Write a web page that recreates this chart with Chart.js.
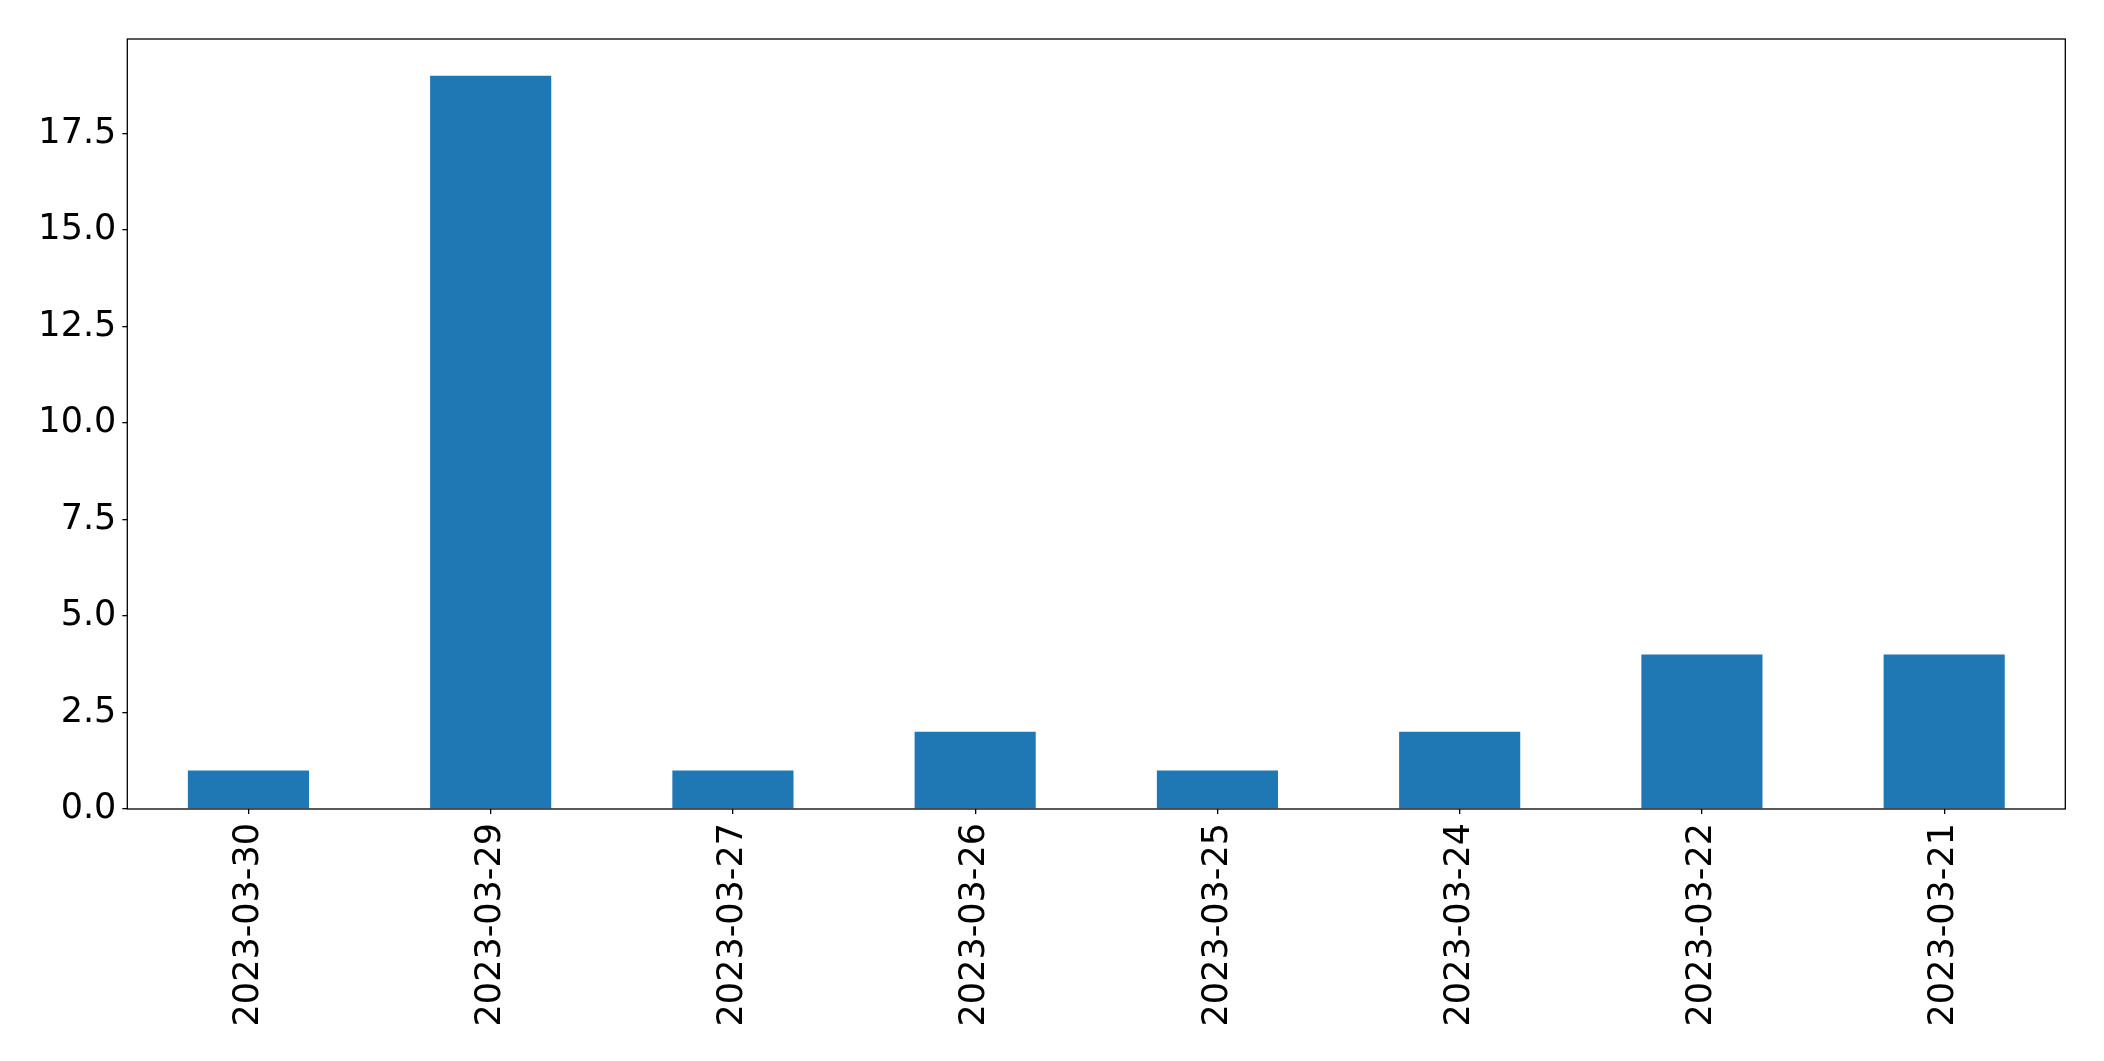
<!DOCTYPE html>
<html>
<head>
<meta charset="utf-8">
<script src="https://cdn.jsdelivr.net/npm/chart.js@4/dist/chart.umd.min.js"></script>
<style>
html,body{margin:0;padding:0;background:#fff;}
#wrap{width:2104px;height:1061px;position:relative;}
</style>
</head>
<body>
<div id="wrap"><canvas id="c"></canvas></div>
<script>
const categories = ["2023-03-30","2023-03-29","2023-03-27","2023-03-26","2023-03-25","2023-03-24","2023-03-22","2023-03-21"];
const counts = [1, 19, 1, 2, 1, 2, 4, 4];
const yMax = 19.95;
const yStep = 2.5;

const framePlugin = {
  id: 'frame',
  afterDraw(chart) {
    const a = chart.chartArea, ctx = chart.ctx;
    ctx.save();
    ctx.strokeStyle = '#000';
    ctx.lineWidth = 1.3;
    ctx.strokeRect(a.left, a.top, a.right - a.left, a.bottom - a.top);
    ctx.restore();
  }
};

new Chart(document.getElementById('c'), {
  type: 'bar',
  data: {
    labels: categories,
    datasets: [{
      data: counts,
      backgroundColor: '#1f77b4',
      borderWidth: 0,
      barPercentage: 0.5,
      categoryPercentage: 1.0
    }]
  },
  options: {
    responsive: true,
    maintainAspectRatio: false,
    animation: false,
    layout: { padding: { left: 0, top: 39, right: 38.7, bottom: 0 } },
    plugins: { legend: { display: false }, tooltip: { enabled: false } },
    scales: {
      x: {
        type: 'category',
        offset: true,
        grid: { display: true, drawOnChartArea: false, offset: false, tickLength: 5, color: '#000', lineWidth: 1.3 },
        border: { display: false },
        ticks: {
          maxRotation: 90, minRotation: 90, autoSkip: false,
          padding: 9,
          color: '#000',
          font: { family: 'DejaVu Sans', size: 35 }
        },
        afterFit(s) { s.height = 252; }
      },
      y: {
        min: 0, max: yMax,
        grid: { display: true, drawOnChartArea: false, tickLength: 5, color: '#000', lineWidth: 1.3 },
        border: { display: false },
        ticks: {
          stepSize: yStep,
          includeBounds: false,
          padding: 6,
          color: '#000',
          font: { family: 'DejaVu Sans', size: 35 },
          callback: v => Number(v).toFixed(1)
        },
        afterFit(s) { s.width = 127.3; }
      }
    }
  },
  plugins: [framePlugin]
});
</script>
</body>
</html>
